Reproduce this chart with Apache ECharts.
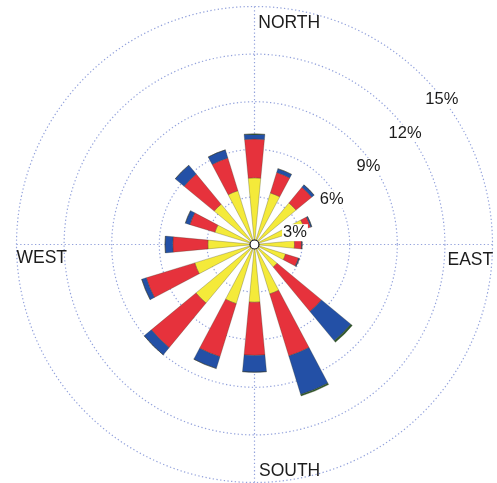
<!DOCTYPE html>
<html>
<head>
<meta charset="utf-8">
<script src="https://cdn.jsdelivr.net/npm/echarts@6/dist/echarts.min.js"></script>
<style>
html,body{margin:0;padding:0;background:#fff;}
#c{width:497px;height:483px;}
</style>
</head>
<body>
<div id="c"></div>
<script>
// Data (percent frequency by direction and speed class)
var directions = ['N','NNE','NE','ENE','E','ESE','SE','SSE','S','SSW','SW','WSW','W','WNW','NW','NNW'];
var yellowVals = [4.2, 3.4, 3.4, 3.3, 2.52, 2.05, 1.85, 3.26, 3.64, 3.9, 4.79, 3.94, 2.94, 2.61, 3.3, 3.55];
var redVals    = [2.45, 1.35, 1.28, 0.4, 0.45, 0.85, 3.63, 4.09, 3.35, 3.5, 3.65, 3.2, 2.21, 1.65, 2.46, 2.16];
var blueVals   = [0.32, 0.25, 0.2, 0.08, 0.03, 0.06, 2.4, 2.54, 1.06, 0.78, 0.59, 0.3, 0.49, 0.3, 0.73, 0.53];
var greenVals  = [0, 0, 0, 0, 0, 0, 0.12, 0.1, 0, 0, 0, 0, 0, 0, 0, 0];
var ringLabels = ['3%', '6%', '9%', '12%', '15%'];
var compassLabels = ['NORTH', 'EAST', 'SOUTH', 'WEST'];

var CX = 254.5, CY = 244.5, R = 238;
var chart = echarts.init(document.getElementById('c'), null, {renderer: 'canvas'});

var gridLine = {show: true, lineStyle: {color: '#93a2dc', width: 1.2, type: [1.3, 2.4]}};
var txtFont = '"Liberation Sans", Arial, sans-serif';
var txtColor = '#1c1c1c';

var border = {borderColor: 'rgba(50,50,30,0.55)', borderWidth: 0.5};
function barSeries(name, vals, color) {
  return {
    name: name, type: 'bar', coordinateSystem: 'polar', polarIndex: 0,
    stack: 'wind', data: vals, barWidth: '48%',
    itemStyle: Object.assign({color: color}, border),
    silent: true
  };
}

// Text layout
var graphics = [];
var compassPos = [
  {x: 258.3, y: 23},
  {x: 447.5, y: 260},
  {x: 259, y: 471.5},
  {x: 16.5, y: 258.5}
];
compassLabels.forEach(function (t, i) {
  graphics.push({
    type: 'text', x: compassPos[i].x, y: compassPos[i].y, z: 100,
    style: {text: t, fill: txtColor, font: '17.5px ' + txtFont, align: 'left', verticalAlign: 'middle'}
  });
});
// ring labels laid along an offset diagonal line
var base = [258.3, 265.9], step = [36.7, -33.2];
ringLabels.forEach(function (t, i) {
  var k = i + 1;
  graphics.push({
    type: 'text', x: base[0] + k * step[0], y: base[1] + k * step[1], z: 100,
    style: {text: t, fill: txtColor, font: '16.5px ' + txtFont, align: 'center', verticalAlign: 'middle',
            backgroundColor: '#ffffff', padding: [0, 1]}
  });
});
graphics.push({
  type: 'circle', shape: {cx: CX, cy: CY, r: 4.5}, z: 100,
  style: {fill: '#ffffff', stroke: '#111111', lineWidth: 1.2}
});

chart.setOption({
  animation: false,
  backgroundColor: '#ffffff',
  polar: [
    {center: [CX, CY], radius: R},
    {center: [CX, CY], radius: R}
  ],
  angleAxis: [
    {polarIndex: 0, type: 'category', data: directions, startAngle: 90 + 11.25, clockwise: true,
     boundaryGap: true, axisLine: {show: false}, axisTick: {show: false}, axisLabel: {show: false},
     splitLine: {show: false}},
    {polarIndex: 1, type: 'value', min: 0, max: 360, interval: 90, startAngle: 90, clockwise: true,
     axisLine: {show: false}, axisTick: {show: false}, axisLabel: {show: false},
     splitLine: gridLine}
  ],
  radiusAxis: [
    {polarIndex: 0, type: 'value', min: 0, max: 15, interval: 3,
     axisLine: {show: false}, axisTick: {show: false}, axisLabel: {show: false},
     splitLine: gridLine},
    {polarIndex: 1, type: 'value', min: 0, max: 15, interval: 3,
     axisLine: {show: false}, axisTick: {show: false}, axisLabel: {show: false},
     splitLine: {show: false}}
  ],
  series: [
    barSeries('yellow', yellowVals, '#f4ea3a'),
    barSeries('red', redVals, '#e6323c'),
    barSeries('blue', blueVals, '#2350a6'),
    barSeries('green', greenVals, '#2f5a2c')
  ],
  graphic: graphics
});
</script>
</body>
</html>
